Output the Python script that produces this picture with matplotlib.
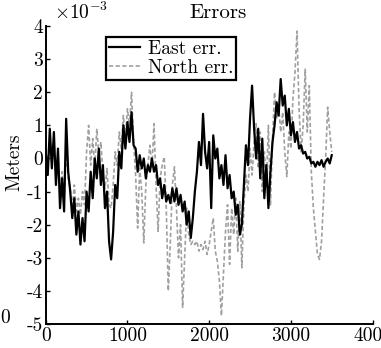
import numpy as np
import matplotlib
matplotlib.use("Agg")
import matplotlib.pyplot as plt

# ---- data (units of 1e-3 m), sampled every 25 samples ----
step = 25
east_err = [
    0.2, -0.5, 0.9, -0.3, 0.8, -0.8, 0.3, -1.5, -0.6, -1.6,
    1.2, -0.4, -1.0, -1.8, -1.2, -2.3, -1.6, -2.6, -1.8, -2.5,
    -1.0, -1.6, -0.4, -1.2, 0.0, -0.6, 0.3, -0.8, -0.2, -1.5,
    -1.0, -2.5, -3.05, -2.2, -0.8, -1.2, 0.2, -0.3, 1.0, 0.3,
    1.1, 0.5, 1.4, 0.4, 0.3, -0.4, 0.1, -0.3, 0.0, -0.6,
    -0.2, -0.4, 0.0, -0.4, -0.2, -0.8, -0.6, -1.2, -0.8, -1.3,
    -1.1, -1.35, -0.9, -1.3, -0.9, -1.4, -1.1, -1.6, -1.3, -2.0,
    -1.6, -2.4, -1.8, -1.0, -0.4, 0.5, -0.2, 1.35, 0.2, -0.3,
    0.5, -1.5, 0.7, 0.0, 0.3, -0.6, -0.2, -0.8, 0.1, -0.9,
    -0.5, -1.2, -1.0, -1.7, -1.4, -2.3, -2.0, -0.8, 0.4, -0.2,
    1.2, 2.2, 0.9, 0.0, 0.9, -0.6, 0.6, -1.2, -0.2, -1.5,
    -0.4, 0.5, 1.0, 1.7, 1.3, 2.4, 1.6, 1.9, 1.0, 1.5,
    0.7, 1.1, 0.5, 0.8, 0.3, 0.4, 0.15, 0.2, 0.0, 0.05,
    -0.15, -0.1, -0.25, -0.1, -0.2, -0.05, -0.25, -0.1, 0.0, -0.15,
    0.1,
]
north_err = [
    0.5, -0.3, 0.6, 0.0, 0.4, -0.5, 0.2, -1.0, -0.4, -1.2,
    0.3, -0.6, -0.9, -1.5, -0.8, -1.6, -1.2, -1.7, -1.0, -1.4,
    0.2, 1.0, -0.2, 0.6, -0.3, 0.9, 0.1, 0.5, -0.5, -0.9,
    -0.3, -1.4, -1.5, -0.8, 0.2, -0.2, 0.8, 0.3, 1.3, 0.6,
    1.5, 1.0, 2.0, 0.5, -0.5, -2.1, -0.3, -1.0, -2.55, -0.8,
    -0.2, 0.4, -0.3, 1.05, -0.8, -2.2, -0.6, -0.2, 0.05, -1.5,
    -4.0, -2.5, -0.8, -0.25, -1.5, -3.0, -2.0, -4.5, -3.0, -1.5,
    -2.3, -2.6, -2.5, -2.6, -2.5, -2.8, -2.6, -2.75, -2.5, -2.9,
    -2.6, -2.2, -1.8, -2.8, -3.1, -3.7, -4.75, -3.5, -2.2, -1.4,
    -3.2, -1.5, -2.3, -1.2, -2.8, -1.3, -3.3, -1.4, -0.5, -1.0,
    0.3, -0.5, 0.5, 1.05, -0.3, 0.8, -1.0, 0.2, -0.8, 1.0,
    -1.4, 0.6, 2.0, 1.2, 1.6, 0.8, 1.4, 0.2, -0.55, 0.8,
    0.3, 1.8, 2.6, 3.85, 1.5, 0.2, 1.0, 2.7, 0.8, 2.2,
    -0.4, -1.5, -2.2, -2.9, -3.05, -2.5, -1.2, 0.0, 1.55, 0.8,
    0.2,
]
samples = np.arange(len(east_err)) * step
x_ticks = [0, 1000, 2000, 3000, 4000]
y_ticks = [-5, -4, -3, -2, -1, 0, 1, 2, 3, 4]

plt.rcParams['font.family'] = 'cmr10'
plt.rcParams['mathtext.fontset'] = 'cm'
plt.rcParams['axes.unicode_minus'] = False

fig = plt.figure(figsize=(3.81, 3.48), dpi=100)
ax = fig.add_axes([0.12, 0.069, 0.858, 0.856])

ax.plot(samples, north_err, color='#a0a0a0', lw=1.2, ls=(0, (2.5, 1.5)),
        label='North err.')
ax.plot(samples, east_err, color='black', lw=1.6, label='East err.', zorder=3)

ax.set_xlim(0, 4000)
ax.set_ylim(-5, 4)
ax.set_xticks(x_ticks)
ax.set_yticks(y_ticks)
ax.set_xticklabels([str(t) for t in x_ticks])
ax.set_yticklabels([str(t) for t in y_ticks])
ax.tick_params(direction='in', length=3, width=1, labelsize=14, pad=2)
for s in ['top', 'right']:
    ax.spines[s].set_visible(False)
for s in ['left', 'bottom']:
    ax.spines[s].set_linewidth(1.4)

ax.set_ylabel('Meters', fontsize=14)
ax.yaxis.set_label_coords(-0.069, 0.544)
ax.text(0.527, 1.045, 'Errors', transform=ax.transAxes, ha='center',
        va='center', fontsize=15)
ax.text(0.025, 1.01, r'$\times10^{-3}$', transform=ax.transAxes, ha='left',
        va='bottom', fontsize=14)

handles, labels = ax.get_legend_handles_labels()
leg = ax.legend(handles[::-1], labels[::-1], loc='upper left',
                bbox_to_anchor=(0.185, 0.962), borderaxespad=0,
                fontsize=14, fancybox=False, framealpha=1, edgecolor='black',
                handlelength=1.6, handletextpad=0.4, borderpad=0.15,
                labelspacing=0.05)
leg.get_frame().set_linewidth(1.6)

fig.text(0.0, 1 - 318 / 348, '0', ha='left', va='center', fontsize=14)

fig.savefig('out.png', dpi=100)
